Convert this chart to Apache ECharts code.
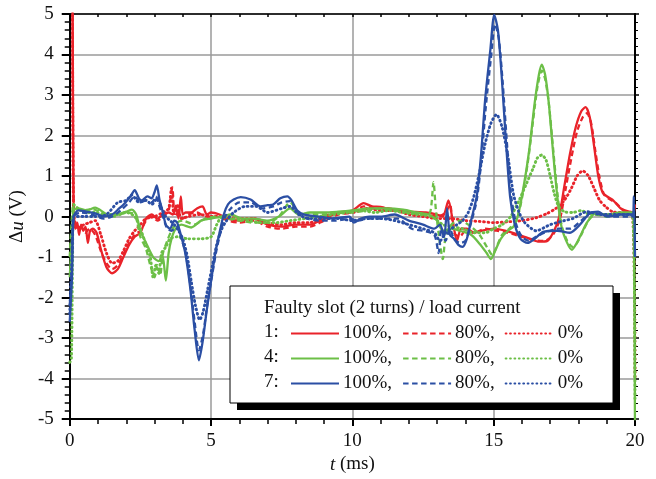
<!DOCTYPE html>
<html>
<head>
<meta charset="utf-8">
<script src="https://cdn.jsdelivr.net/npm/echarts@6/dist/echarts.min.js"></script>
<style>
  html, body { margin: 0; padding: 0; background: #fff; }
  #main { width: 656px; height: 479px; }
</style>
</head>
<body>
<div id="main"></div>
<script>
// [t (ms), du (V)]
const r100 = [[0,6],[0.08,6],[0.14,0.1],[0.2,-0.3],[0.27,-0.15],[0.33,-0.45],[0.4,-0.2],[0.48,-0.35],[0.56,-0.25],[0.64,-0.65],[0.72,-0.35],[0.82,-0.3],[0.95,-0.4],[1.1,-0.8],[1.3,-1.25],[1.5,-1.4],[1.7,-1.3],[1.9,-1.0],[2.1,-0.7],[2.3,-0.5],[2.5,-0.4],[2.7,-0.05],[2.9,0.05],[3.1,-0.05],[3.3,0.05],[3.5,0.1],[3.65,0.05],[3.75,0.25],[3.85,-0.05],[3.93,0.5],[4.0,0.05],[4.1,0.1],[4.3,0.1],[4.5,0.2],[4.7,0.25],[4.85,0.05],[5.0,0.1],[5.3,0.05],[5.6,-0.05],[6.0,-0.1],[6.5,-0.05],[7.0,-0.2],[7.5,-0.25],[8.0,-0.2],[8.5,-0.2],[9.0,-0.05],[9.5,0.1],[10.0,0.15],[10.4,0.33],[10.7,0.25],[11.0,0.24],[11.5,0.15],[12.0,0.12],[12.6,0.1],[13.0,0.05],[13.2,0.0],[13.4,0.4],[13.55,-0.1],[13.7,-0.6],[13.85,-0.3],[14.05,-0.3],[14.3,-0.4],[14.6,-0.35],[15.0,-0.3],[15.4,-0.35],[15.9,-0.45],[16.3,-0.55],[16.6,-0.62],[16.9,-0.6],[17.1,-0.4],[17.3,-0.05],[17.5,0.75],[17.7,1.55],[17.9,2.2],[18.1,2.6],[18.25,2.7],[18.4,2.45],[18.55,1.75],[18.7,1.0],[18.85,0.6],[19.0,0.5],[19.2,0.42],[19.5,0.2],[19.8,0.12],[19.95,0.1],[20,0.3]];
const r80 = [[0,6],[0.08,6],[0.14,0.0],[0.25,-0.3],[0.4,-0.25],[0.55,-0.4],[0.7,-0.3],[0.9,-0.45],[1.1,-0.85],[1.3,-1.15],[1.5,-1.3],[1.7,-1.2],[1.9,-0.95],[2.1,-0.65],[2.3,-0.45],[2.5,-0.35],[2.7,-0.1],[2.9,0.0],[3.1,-0.1],[3.3,0.0],[3.5,0.15],[3.63,0.72],[3.72,0.0],[3.85,0.1],[4.0,-0.05],[4.2,0.05],[4.5,0.1],[4.8,0.0],[5.2,0.0],[5.6,-0.1],[6.0,-0.15],[6.5,-0.1],[7.0,-0.25],[7.5,-0.3],[8.0,-0.25],[8.5,-0.25],[9.0,-0.1],[9.5,0.05],[10.0,0.1],[10.4,0.25],[10.8,0.2],[11.3,0.2],[11.8,0.1],[12.4,0.05],[13.0,0.0],[13.3,0.1],[13.45,0.3],[13.6,-0.4],[13.8,-0.5],[14.0,-0.35],[14.3,-0.4],[14.7,-0.3],[15.1,-0.35],[15.5,-0.4],[16.0,-0.5],[16.4,-0.58],[16.8,-0.6],[17.1,-0.45],[17.35,-0.05],[17.55,0.7],[17.75,1.45],[17.95,2.1],[18.15,2.45],[18.3,2.55],[18.45,2.3],[18.6,1.6],[18.75,0.95],[18.9,0.55],[19.05,0.45],[19.3,0.35],[19.6,0.15],[19.9,0.1],[20,0.0]];
const r0 = [[0,6],[0.08,6],[0.14,0.05],[0.3,-0.3],[0.5,-0.2],[0.7,-0.15],[0.9,-0.1],[1.1,-0.45],[1.3,-0.9],[1.5,-1.15],[1.7,-1.1],[1.9,-0.85],[2.1,-0.55],[2.3,-0.35],[2.5,-0.2],[2.7,-0.05],[3.0,0.0],[3.3,0.1],[3.5,0.2],[3.6,0.7],[3.68,0.1],[3.8,0.3],[3.95,-0.05],[4.2,0.0],[4.6,0.05],[5.0,0.0],[5.5,0.0],[6.0,-0.05],[6.5,-0.05],[7.0,-0.15],[7.5,-0.2],[8.0,-0.15],[8.5,-0.15],[9.0,0.0],[9.5,0.1],[10.0,0.1],[10.5,0.2],[11.0,0.15],[11.5,0.15],[12.0,0.05],[12.5,0.0],[13.0,-0.05],[13.5,-0.05],[14.0,-0.1],[14.5,-0.12],[15.0,-0.15],[15.5,-0.13],[16.0,-0.1],[16.5,-0.03],[16.9,0.08],[17.2,0.2],[17.5,0.4],[17.75,0.7],[17.95,1.0],[18.15,1.13],[18.35,1.0],[18.55,0.7],[18.75,0.4],[18.95,0.25],[19.2,0.12],[19.5,0.1],[19.9,0.08],[20,-4]];

const g100 = [[0,-1.5],[0.08,-0.5],[0.14,0.15],[0.3,0.2],[0.6,0.15],[0.9,0.22],[1.2,0.1],[1.4,0.0],[1.7,0.05],[2.0,0.12],[2.2,0.17],[2.35,0.05],[2.5,-0.35],[2.7,-0.65],[2.95,-1.0],[3.15,-1.1],[3.28,-0.95],[3.4,-1.58],[3.5,-0.9],[3.6,-0.55],[3.75,-0.3],[3.95,-0.2],[4.3,-0.27],[4.65,-0.1],[5.0,-0.05],[5.4,0.0],[5.7,0.05],[6.1,-0.05],[6.5,-0.05],[7.0,-0.1],[7.4,0.0],[7.8,0.2],[8.1,0.05],[8.5,0.1],[9.0,0.1],[9.5,0.12],[10.0,0.15],[10.6,0.2],[11.2,0.2],[11.8,0.17],[12.3,0.1],[12.7,0.05],[13.0,-0.1],[13.2,-0.35],[13.5,-0.3],[13.8,-0.35],[14.2,-0.45],[14.5,-0.67],[14.75,-0.9],[14.9,-1.05],[15.05,-0.85],[15.25,-0.55],[15.5,-0.35],[15.7,-0.25],[15.85,0.0],[16.05,0.7],[16.25,1.6],[16.45,2.8],[16.6,3.5],[16.7,3.75],[16.82,3.5],[16.95,2.8],[17.1,1.6],[17.25,0.5],[17.4,-0.25],[17.6,-0.65],[17.77,-0.82],[17.9,-0.7],[18.05,-0.5],[18.3,-0.15],[18.6,0.08],[19.0,0.05],[19.5,0.1],[19.9,0.1],[19.96,0.0],[20,-5.5]];
const g80 = [[0,-1.0],[0.08,0.0],[0.14,0.25],[0.4,0.15],[0.8,0.18],[1.2,0.08],[1.6,0.0],[2.0,0.1],[2.3,0.05],[2.5,-0.5],[2.7,-0.8],[2.85,-1.2],[3.0,-1.5],[3.1,-1.2],[3.2,-1.45],[3.3,-0.9],[3.45,-0.6],[3.6,-0.35],[3.8,-0.15],[4.0,-0.1],[4.4,-0.2],[4.8,-0.05],[5.2,0.0],[5.6,-0.05],[6.0,-0.1],[6.5,-0.15],[7.0,-0.15],[7.4,0.0],[7.8,0.35],[8.1,0.1],[8.5,0.05],[9.0,0.05],[9.5,0.1],[10.0,0.1],[10.5,0.15],[11.0,0.2],[11.5,0.15],[12.0,0.1],[12.5,0.05],[12.75,0.1],[12.87,0.85],[12.95,0.2],[13.05,-0.4],[13.2,-1.05],[13.3,-0.5],[13.5,-0.2],[13.8,-0.1],[14.2,-0.25],[14.5,-0.45],[14.8,-0.8],[14.95,-0.95],[15.1,-0.75],[15.3,-0.45],[15.55,-0.3],[15.8,-0.1],[16.0,0.45],[16.2,1.3],[16.4,2.4],[16.55,3.2],[16.7,3.6],[16.82,3.4],[16.95,2.8],[17.1,1.7],[17.25,0.6],[17.4,-0.2],[17.6,-0.6],[17.8,-0.75],[17.95,-0.65],[18.1,-0.45],[18.35,-0.1],[18.6,0.05],[19.0,0.0],[19.5,0.08],[19.9,0.05],[20,-0.5]];
const g0 = [[0,-3.6],[0.06,-3.5],[0.1,-1.0],[0.14,0.3],[0.3,0.2],[0.6,0.1],[0.9,0.1],[1.3,0.05],[1.7,0.05],[2.0,0.1],[2.3,0.0],[2.5,-0.3],[2.7,-0.7],[2.85,-1.0],[2.95,-1.5],[3.05,-1.2],[3.15,-1.4],[3.25,-0.9],[3.4,-0.75],[3.55,-0.55],[3.8,-0.5],[4.2,-0.55],[4.6,-0.55],[5.0,-0.5],[5.2,-0.2],[5.4,0.0],[5.8,-0.05],[6.3,-0.1],[6.8,-0.15],[7.3,-0.15],[7.8,-0.1],[8.3,-0.05],[8.8,0.0],[9.3,0.05],[9.8,0.1],[10.3,0.15],[10.8,0.1],[11.3,0.15],[11.8,0.1],[12.3,0.05],[12.8,0.0],[13.2,-0.2],[13.5,-0.25],[13.9,-0.3],[14.3,-0.4],[14.7,-0.4],[15.0,-0.3],[15.3,-0.2],[15.6,0.0],[15.9,0.4],[16.15,0.8],[16.4,1.2],[16.55,1.45],[16.7,1.52],[16.85,1.4],[17.0,1.0],[17.15,0.55],[17.3,0.25],[17.5,0.12],[17.8,0.1],[18.1,0.15],[18.4,0.05],[18.8,0.05],[19.2,0.05],[19.6,0.05],[19.9,0.05],[20,-4.5]];

const b100 = [[0,-2.6],[0.08,-1.5],[0.14,0.0],[0.3,0.15],[0.6,0.12],[0.9,0.08],[1.2,0.0],[1.5,0.05],[1.75,0.2],[1.95,0.33],[2.15,0.5],[2.3,0.65],[2.45,0.45],[2.55,0.4],[2.75,0.5],[2.9,0.45],[3.0,0.6],[3.08,0.77],[3.18,0.4],[3.28,0.15],[3.4,-0.2],[3.55,-0.3],[3.7,-0.1],[3.8,-0.15],[3.95,-0.5],[4.1,-0.95],[4.27,-1.8],[4.42,-2.8],[4.57,-3.55],[4.7,-3.1],[4.85,-2.3],[5.0,-1.6],[5.15,-0.9],[5.3,-0.4],[5.45,0.05],[5.6,0.3],[5.8,0.42],[6.05,0.48],[6.4,0.42],[6.75,0.25],[7.0,0.28],[7.2,0.3],[7.45,0.45],[7.7,0.5],[7.85,0.4],[8.05,0.15],[8.3,0.05],[8.8,0.0],[9.3,-0.05],[9.9,0.0],[10.05,-0.15],[10.3,-0.05],[10.6,0.0],[11.0,0.0],[11.5,0.05],[12.0,-0.1],[12.5,-0.2],[12.9,-0.3],[13.1,-0.2],[13.25,-0.5],[13.35,0.2],[13.45,-0.45],[13.6,-0.55],[13.75,-0.7],[13.9,-0.75],[14.05,-0.55],[14.2,-0.1],[14.4,0.5],[14.55,1.5],[14.7,2.9],[14.88,4.1],[15.02,4.98],[15.15,4.6],[15.28,3.5],[15.42,2.0],[15.58,0.5],[15.75,-0.2],[15.95,-0.55],[16.2,-0.65],[16.45,-0.55],[16.75,-0.38],[17.25,-0.35],[17.7,-0.4],[18.05,-0.2],[18.4,0.08],[18.7,0.12],[19.0,0.0],[19.5,0.05],[19.9,0.05],[19.96,0.5],[20,-1]];
const b80 = [[0,-2.2],[0.08,-1.2],[0.14,0.0],[0.4,0.1],[0.8,0.05],[1.2,-0.05],[1.5,0.0],[1.8,0.15],[2.1,0.35],[2.3,0.5],[2.5,0.35],[2.7,0.4],[2.9,0.35],[3.05,0.5],[3.15,0.3],[3.3,0.0],[3.45,-0.3],[3.6,-0.35],[3.8,-0.25],[3.95,-0.55],[4.1,-0.9],[4.27,-1.7],[4.42,-2.6],[4.57,-3.3],[4.72,-2.9],[4.88,-2.1],[5.05,-1.4],[5.2,-0.8],[5.35,-0.35],[5.5,0.0],[5.7,0.2],[6.0,0.35],[6.4,0.35],[6.8,0.2],[7.2,0.25],[7.5,0.35],[7.8,0.38],[8.05,0.1],[8.4,-0.05],[8.9,-0.1],[9.4,-0.1],[9.9,-0.05],[10.2,-0.1],[10.6,-0.05],[11.1,-0.05],[11.6,-0.05],[12.1,-0.3],[12.5,-0.35],[12.9,-0.45],[13.05,-0.9],[13.15,-0.3],[13.3,-0.6],[13.45,-0.3],[13.6,-0.55],[13.8,-0.65],[14.0,-0.6],[14.2,-0.15],[14.4,0.4],[14.55,1.3],[14.72,2.7],[14.9,3.9],[15.05,4.75],[15.18,4.4],[15.32,3.3],[15.46,1.9],[15.62,0.5],[15.8,-0.2],[16.0,-0.5],[16.25,-0.6],[16.5,-0.5],[16.8,-0.4],[17.3,-0.3],[17.7,-0.3],[18.1,-0.1],[18.45,0.1],[18.8,0.05],[19.2,0.0],[19.6,0.0],[19.9,0.0],[20,0.0]];
const b0 = [[0,-2.4],[0.08,-1.0],[0.14,0.0],[0.5,0.0],[0.9,0.0],[1.3,0.05],[1.7,0.35],[2.0,0.4],[2.2,0.53],[2.45,0.35],[2.7,0.4],[2.9,0.3],[3.1,0.45],[3.25,0.2],[3.4,0.0],[3.55,-0.1],[3.7,-0.2],[3.85,-0.35],[4.0,-0.55],[4.15,-0.95],[4.3,-1.6],[4.45,-2.2],[4.6,-2.55],[4.72,-2.35],[4.88,-1.8],[5.05,-1.2],[5.2,-0.7],[5.35,-0.35],[5.55,-0.1],[5.8,0.1],[6.2,0.25],[6.6,0.25],[7.0,0.1],[7.5,0.2],[7.8,0.25],[8.1,0.05],[8.5,-0.05],[9.0,-0.05],[9.5,-0.05],[10.0,-0.1],[10.5,-0.05],[11.0,-0.05],[11.5,-0.1],[12.0,-0.2],[12.5,-0.3],[12.9,-0.4],[13.1,-0.6],[13.3,-0.4],[13.5,-0.3],[13.7,-0.2],[13.9,-0.1],[14.1,0.1],[14.3,0.5],[14.5,1.1],[14.7,1.8],[14.9,2.3],[15.1,2.52],[15.3,2.2],[15.5,1.5],[15.7,0.55],[15.9,0.1],[16.1,-0.15],[16.5,-0.35],[17.0,-0.2],[17.5,-0.1],[17.8,-0.05],[18.3,0.12],[18.8,0.05],[19.3,0.05],[19.8,0.05],[20,0.0]];

const slots = ['1', '4', '7'];
const loads = ['100%,', '80%,', '0%'];
const slotData = [[r100, r80, r0], [g100, g80, g0], [b100, b80, b0]];

const colors = ['#e9232a', '#6cbf47', '#2b4fa4'];
const dashes = ['solid', [5.5, 3.5], [0.8, 3.6]];
const widths = [2.3, 2.3, 2.9];
const FONT = 'Liberation Serif';

const series = [];
slots.forEach((s, i) => {
  loads.forEach((l, j) => {
    series.push({
      name: s + ':' + l,
      type: 'line',
      data: slotData[i][j],
      symbol: 'none',
      smooth: 0.25,
      silent: true,
      lineStyle: { color: colors[i], width: widths[j], type: dashes[j], cap: j === 2 ? 'round' : 'butt' },
      itemStyle: { color: colors[i] }
    });
  });
});

// one legend row per faulty slot
const rowY = [334, 359, 384];
const legends = slots.map((s, i) => ({
  data: loads.map(l => s + ':' + l),
  left: 290,
  top: rowY[i] - 10,
  orient: 'horizontal',
  padding: 0,
  itemWidth: 48,
  itemHeight: 14,
  itemGap: 10,
  selectedMode: false,
  itemStyle: { opacity: 0 },
  formatter: name => name.split(':')[1],
  textStyle: { fontFamily: FONT, fontSize: 19, color: '#111', padding: [0, 0, 0, -1] },
  z: 10
}));

const chart = echarts.init(document.getElementById('main'));
chart.setOption({
  animation: false,
  grid: { left: 69, right: 21, top: 14, bottom: 49 },
  xAxis: [{
    type: 'value', min: 0, max: 20, interval: 5,
    name: '{i|t} (ms)', nameLocation: 'middle', nameGap: 30,
    nameTextStyle: { fontFamily: FONT, fontSize: 19, color: '#111', rich: { i: { fontFamily: FONT, fontSize: 19, fontStyle: 'italic', color: '#111' } } },
    axisLine: { onZero: false, lineStyle: { color: '#000', width: 2 } },
    axisTick: { length: 7, lineStyle: { color: '#000', width: 2 } },
    minorTick: { show: true, splitNumber: 5, length: 5, lineStyle: { color: '#000', width: 1.5 } },
    axisLabel: { fontFamily: FONT, fontSize: 19, color: '#111', margin: 12 },
    splitLine: { show: true, lineStyle: { color: '#9a9a9a', width: 1.5 } }
  }, {
    type: 'value', min: 0, max: 20, interval: 1, position: 'top',
    axisLine: { onZero: false, lineStyle: { color: '#000', width: 1.5 } },
    axisTick: { inside: true, length: 3, lineStyle: { color: '#000', width: 1.5 } },
    axisLabel: { show: false },
    splitLine: { show: false }
  }],
  yAxis: [{
    type: 'value', min: -5, max: 5, interval: 1,
    name: '{n|Δ}{i|u}{n| (V)}', nameLocation: 'middle', nameGap: 36, nameRotate: 90,
    nameTextStyle: { rich: {
      n: { fontFamily: FONT, fontSize: 19, color: '#111' },
      i: { fontFamily: FONT, fontSize: 19, fontStyle: 'italic', color: '#111' }
    } },
    axisLine: { onZero: false, lineStyle: { color: '#000', width: 2 } },
    axisTick: { length: 8, lineStyle: { color: '#000', width: 2 } },
    minorTick: { show: true, splitNumber: 5, length: 5, lineStyle: { color: '#000', width: 1.5 } },
    axisLabel: { fontFamily: FONT, fontSize: 19, color: '#111', margin: 16 },
    splitLine: { show: true, lineStyle: { color: '#9a9a9a', width: 1.5 } }
  }, {
    type: 'value', min: -5, max: 5, interval: 1, position: 'right',
    axisLine: { onZero: false, lineStyle: { color: '#000', width: 2 } },
    axisTick: { length: 4, lineStyle: { color: '#000', width: 1.5 } },
    minorTick: { show: true, splitNumber: 5, length: 3, lineStyle: { color: '#000', width: 1 } },
    axisLabel: { show: false },
    splitLine: { show: false }
  }],
  legend: legends,
  graphic: [
    { type: 'rect', z: 3, shape: { x: 237, y: 293, width: 383, height: 117 }, style: { fill: '#000' } },
    { type: 'rect', z: 3, shape: { x: 230, y: 286, width: 383, height: 117 }, style: { fill: '#fff', stroke: '#000', lineWidth: 1 } },
    { type: 'text', z: 5, left: 264, top: 299, style: { text: 'Faulty slot (2 turns) / load current', fontFamily: FONT, fontSize: 19, fill: '#111' } }
  ].concat(slots.map((s, i) => ({
    type: 'text', z: 5, left: 264, top: rowY[i] - 11,
    style: { text: s + ':', fontFamily: FONT, fontSize: 19, fill: '#111' }
  }))),
  series: series
});
</script>
</body>
</html>
